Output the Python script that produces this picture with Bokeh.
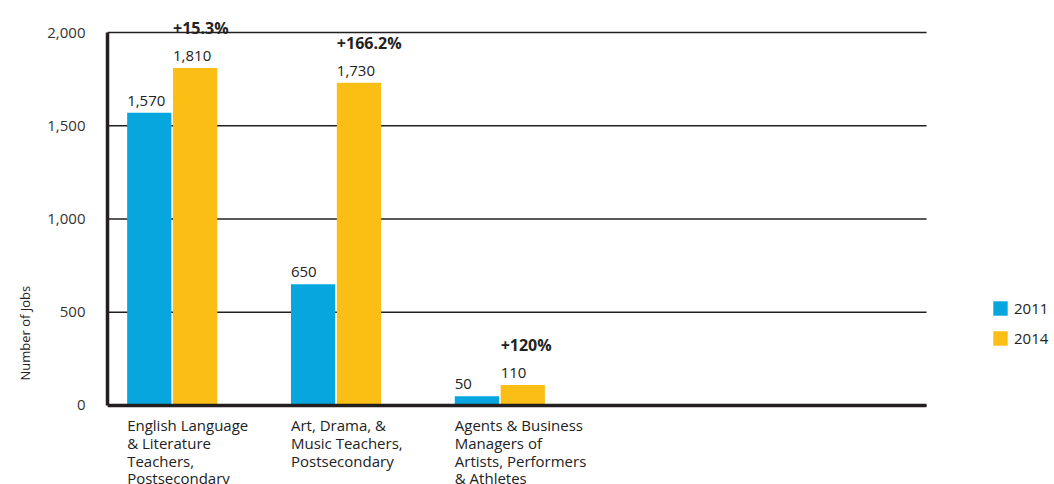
from bokeh.plotting import figure
from bokeh.models import (ColumnDataSource, Range1d, LabelSet, Legend, LegendItem, FixedTicker,
                          NumeralTickFormatter, Title)
from bokeh.core.properties import value
from bokeh.embed import file_html
from bokeh.resources import INLINE

categories = ["English Language\n& Literature\nTeachers,\nPostsecondary",
              "Art, Drama, &\nMusic Teachers,\nPostsecondary",
              "Agents & Business\nManagers of\nArtists, Performers\n& Athletes"]
jobs_2011 = [1570, 650, 50]
jobs_2014 = [1810, 1730, 110]
pct_change = ["+15.3%", "+166.2%", "+120%"]
y_ticks = [0, 500, 1000, 1500, 2000]
n_slots = 5

FONT = "Open Sans"
BLUE = "#08A6DE"
GOLD = "#FBBE14"
INK = "#231F20"

idx = list(range(len(categories)))
src = ColumnDataSource(dict(
    x11=[i + 0.255 for i in idx],
    x14=[i + 0.535 for i in idx],
    left11=[i + 0.12 for i in idx],
    left14=[i + 0.40 for i in idx],
    y11=jobs_2011, y14=jobs_2014,
    t11=[f"{v:,}" for v in jobs_2011],
    t14=[f"{v:,}" for v in jobs_2014],
    pct=pct_change,
    cat=categories,
    base=[0] * len(categories),
))
grid_src = ColumnDataSource(dict(y=y_ticks, x0=[0] * len(y_ticks), x1=[n_slots] * len(y_ticks)))

p = figure(width=1054, height=484, output_backend="svg", toolbar_location=None,
           x_range=Range1d(0, 5.781), y_range=Range1d(-423.6, 2144.8),
           min_border_left=107, min_border_top=5, min_border_bottom=0, min_border_right=0)
p.outline_line_color = None
p.background_fill_color = "white"
p.xgrid.visible = False
p.ygrid.visible = False

p.segment(x0="x0", x1="x1", y0="y", y1="y", source=grid_src, line_color=INK, line_width=1.5)

r11 = p.vbar(x="x11", top="y11", width=0.27, source=src, color=BLUE, line_color=None)
r14 = p.vbar(x="x14", top="y14", width=0.27, source=src, color=GOLD, line_color=None)

p.yaxis.ticker = FixedTicker(ticks=y_ticks)
p.yaxis.formatter = NumeralTickFormatter(format="0,0")
p.yaxis.bounds = (0, 2000)
p.yaxis.axis_line_width = 3.5
p.yaxis.axis_line_color = INK
p.yaxis.major_tick_line_color = None
p.yaxis.minor_tick_line_color = None
p.yaxis.major_label_standoff = 16
p.yaxis.major_label_text_font = FONT
p.yaxis.major_label_text_font_size = "15px"
p.yaxis.major_label_text_color = "#333333"

p.add_layout(Title(text="Number of Jobs", align="left", offset=104, standoff=22,
                   text_font=FONT, text_font_size="13px", text_color="#222222",
                   text_font_style="normal"), "left")

p.xaxis.ticker = FixedTicker(ticks=[])
p.xaxis.fixed_location = 0
p.xaxis.bounds = (0, n_slots)
p.xaxis.axis_line_width = 3.5
p.xaxis.axis_line_color = INK
p.xaxis.major_tick_line_color = None
p.xaxis.minor_tick_line_color = None
p.xaxis.major_label_text_font_size = "0px"

common = dict(source=src, text_font=value(FONT), text_font_size=value("15px"),
              text_color=value("#222222"), text_align=value("left"), text_baseline=value("bottom"))
p.add_layout(LabelSet(x="left11", y="y11", text="t11", y_offset=7, **common))
p.add_layout(LabelSet(x="left14", y="y14", text="t14", y_offset=7, **common))
p.add_layout(LabelSet(x="left14", y="y14", text="pct", y_offset=29, text_font_style=value("bold"),
                      **{**common, "text_font_size": value("16px")}))
p.add_layout(LabelSet(x="left11", y="base", text="cat", y_offset=-10, source=src,
                      text_font=value(FONT), text_font_size=value("15px"), text_color=value("#222222"),
                      text_align=value("left"), text_baseline=value("top"), text_line_height=0.88))

legend = Legend(items=[LegendItem(label="2011", renderers=[r11]),
                       LegendItem(label="2014", renderers=[r14])],
                glyph_width=18, glyph_height=18, spacing=10, label_standoff=5,
                label_text_font=FONT, label_text_font_size="15px", label_text_color="#222222",
                border_line_color=None, background_fill_alpha=0, margin=0, padding=0,
                location=(884, 136), label_height=18)
p.add_layout(legend)

open("out.html", "w").write(file_html(p, INLINE))
